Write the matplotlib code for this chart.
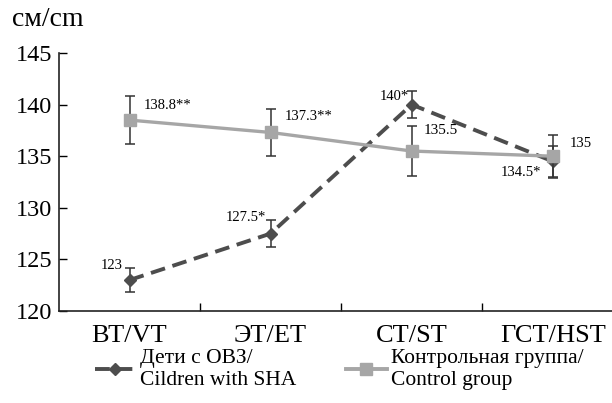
import matplotlib
matplotlib.use("Agg")
import matplotlib.pyplot as plt
from matplotlib.lines import Line2D

# --- data ---
categories = ["ВТ/VT", "ЭТ/ET", "СТ/ST", "ГСТ/HST"]
children = [123, 127.5, 140, 134.5]
children_err = [1.2, 1.3, 1.3, 1.5]
children_labels = ["123", "127.5*", "140*", "134.5*"]
control = [138.5, 137.3, 135.5, 135]
control_err = [2.3, 2.3, 2.4, 2.1]
control_labels = ["138.8**", "137.3**", "135.5", "135"]

plt.rcParams["font.family"] = "serif"
plt.rcParams["font.serif"] = ["Liberation Serif", "DejaVu Serif"]

fig = plt.figure(figsize=(6.12, 4.03), dpi=100)
ax = fig.add_axes([59 / 612, 1 - 311 / 403, 553 / 612, 258 / 403])

x = list(range(len(categories)))
dark = "#4d4d4d"
light = "#a6a6a6"
dash = (0, (3.8, 2.0))

ax.errorbar(x, control, yerr=control_err, color=light, lw=2.4,
            marker="s", ms=9, mfc=light, mec=light, ecolor="#333333",
            elinewidth=1.1, capsize=3.5, capthick=1.1, zorder=2)
ax.errorbar(x, children, yerr=children_err, color=dark, lw=2.8, ls=dash,
            marker="D", ms=6.5, mfc=dark, mec=dark, ecolor="#333333",
            elinewidth=1.1, capsize=3.5, capthick=1.1, zorder=1)

# value labels, offsets in pixels from the point
fs = 10.5
ax.annotate(control_labels[0], (x[0], control[0]), xytext=(14, 15), textcoords="offset pixels",
            fontsize=fs, ha="left", va="center")
ax.annotate(control_labels[1], (x[1], control[1]), xytext=(14, 16), textcoords="offset pixels",
            fontsize=fs, ha="left", va="center")
ax.annotate(control_labels[2], (x[2], control[2]), xytext=(12, 21), textcoords="offset pixels",
            fontsize=fs + 0.5, ha="left", va="center")
ax.annotate(control_labels[3], (x[3], control[3]), xytext=(17, 13), textcoords="offset pixels",
            fontsize=fs, ha="left", va="center")
ax.annotate(children_labels[0], (x[0], children[0]), xytext=(-7, 15), textcoords="offset pixels",
            fontsize=fs, ha="right", va="center")
ax.annotate(children_labels[1], (x[1], children[1]), xytext=(-5, 16), textcoords="offset pixels",
            fontsize=fs, ha="right", va="center")
ax.annotate(children_labels[2], (x[2], children[2]), xytext=(-3, 8), textcoords="offset pixels",
            fontsize=fs, ha="right", va="center")
ax.annotate(children_labels[3], (x[3], children[3]), xytext=(-12, -11), textcoords="offset pixels",
            fontsize=fs, ha="right", va="center")

ax.set_ylim(120, 145)
ax.set_yticks([120, 125, 130, 135, 140, 145])
ax.set_xlim(-0.5, 3.42)
ax.set_xticks(x)
ax.set_xticklabels(categories)
ax.set_xticks([0.5, 1.5, 2.5], minor=True)
ax.tick_params(axis="x", which="major", length=0, labelsize=19, pad=10)
ax.tick_params(axis="x", which="minor", direction="in", length=6, width=1)
ax.tick_params(axis="y", direction="in", length=6, width=1, labelsize=17.5, pad=5)
ax.spines["top"].set_visible(False)
ax.spines["right"].set_visible(False)
for s in ("left", "bottom"):
    ax.spines[s].set_linewidth(1.2)
    ax.spines[s].set_color("#222222")

fig.text(12 / 612, 1 - 20 / 403, "см/cm", fontsize=20, va="center")

h_children = Line2D([], [], color=dark, lw=2.8, ls=dash, marker="D", ms=6.5, mfc=dark, mec=dark)
h_control = Line2D([], [], color=light, lw=2.8, marker="s", ms=9, mfc=light, mec=light)
fig.legend([h_children, h_control],
           ["Дети с ОВЗ/\nCildren with SHA", "Контрольная группа/\nControl group"],
           ncol=2, loc="upper left", bbox_to_anchor=(84 / 612, 1 - 338 / 403), frameon=False,
           fontsize=15.5, handlelength=1.9, columnspacing=2.3,
           handletextpad=0.2, borderpad=0, labelspacing=0)

fig.savefig("out.png", dpi=100)
